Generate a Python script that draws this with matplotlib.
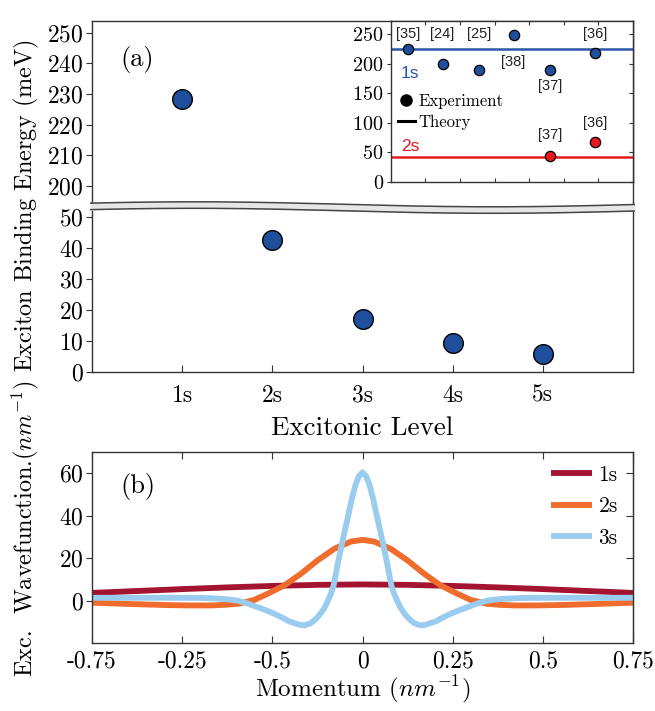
import numpy as np
import matplotlib
matplotlib.use("Agg")
import matplotlib.pyplot as plt
from matplotlib.lines import Line2D

plt.rcParams['font.family'] = 'serif'
plt.rcParams['font.serif'] = ['cmr10']
plt.rcParams['mathtext.fontset'] = 'cm'
plt.rcParams['axes.unicode_minus'] = False
plt.rcParams['axes.formatter.use_mathtext'] = True

# ---- data: panel (a) ----
levels = ['1s', '2s', '3s', '4s', '5s']
level_pos = [1, 2, 3, 4, 5]
binding = [228.5, 42.5, 17.2, 9.4, 5.9]

# inset: experiments vs theory
exp_1s_x = [0.5, 1.5, 2.55, 3.55, 4.6, 5.9]
exp_1s_y = [225, 200, 190, 249, 190, 219]
exp_1s_refs = ['[35]', '[24]', '[25]', '[38]', '[37]', '[36]']
exp_2s_x = [4.6, 5.9]
exp_2s_y = [43, 68]
exp_2s_refs = ['[37]', '[36]']
theory_1s = 225
theory_2s = 42.5
ref_1s_text_y = [250, 250, 250, 203, 162, 250]
ref_2s_text_y = [79, 99]

# ---- data: panel (b) ----
k_1s = [-0.75, -0.625, -0.5, -0.375, -0.25, -0.125, 0, 0.125, 0.25, 0.375, 0.5, 0.625, 0.75]
psi_1s = [3.6, 4.5, 5.4, 6.2, 6.9, 7.4, 7.6, 7.4, 6.9, 6.2, 5.4, 4.5, 3.6]

k_2s = [-0.75, -0.65, -0.55, -0.483, -0.42, -0.38, -0.344, -0.3, -0.263, -0.217, -0.171,
        -0.125, -0.078, -0.032, 0, 0.032, 0.078, 0.125, 0.171, 0.217, 0.263, 0.3, 0.344,
        0.38, 0.42, 0.483, 0.55, 0.65, 0.75]
psi_2s = [-1.0, -1.6, -2.1, -2.3, -2.3, -2.0, -1.5, 0.3, 3.2, 7.1, 12.6,
          18.9, 24.4, 27.8, 28.6, 27.8, 24.4, 18.9, 12.6, 7.1, 3.2, 0.3, -1.5,
          -2.0, -2.3, -2.3, -2.1, -1.6, -1.0]

k_3s = [-0.75, -0.6, -0.5, -0.44, -0.4, -0.37, -0.344, -0.32, -0.298, -0.28, -0.263, -0.25,
        -0.235, -0.217, -0.206, -0.189, -0.175, -0.161, -0.145, -0.134, -0.125, -0.115,
        -0.105, -0.096, -0.088, -0.08, -0.07, -0.062, -0.05, -0.0415, -0.03, -0.02, -0.01,
        0, 0.01, 0.02, 0.03, 0.0415, 0.05, 0.062, 0.07, 0.08, 0.088, 0.096, 0.105, 0.115,
        0.125, 0.134, 0.145, 0.161, 0.175, 0.189, 0.206, 0.217, 0.235, 0.25, 0.263, 0.28,
        0.298, 0.32, 0.344, 0.37, 0.4, 0.44, 0.5, 0.6, 0.75]
psi_3s = [1.3, 1.3, 1.3, 1.2, 0.9, 0.5, -0.1, -1.3, -2.7, -3.8, -4.9, -5.8,
          -7.0, -8.5, -9.6, -10.6, -11.4, -11.7, -10.8, -9.4, -7.9, -5.8,
          -3.3, 0.0, 3.0, 7.1, 16.0, 22.8, 32.2, 38.5, 47.6, 54.2, 58.6,
          60.4, 58.6, 54.2, 47.6, 38.5, 32.2, 22.8, 16.0, 7.1, 3.0, 0.0, -3.3, -5.8,
          -7.9, -9.4, -10.8, -11.7, -11.4, -10.6, -9.6, -8.5, -7.0, -5.8, -4.9, -3.8,
          -2.7, -1.3, -0.1, 0.5, 0.9, 1.2, 1.3, 1.3, 1.3]

k_ticks = [-0.75, -0.5, -0.25, 0, 0.25, 0.5, 0.75]
k_ticklabels = ['-0.75', '-0.25', '-0.5', '0', '0.25', '0.5', '0.75']

blue = '#1f4e9d'
spine_c = '#333333'
tick_fs = 17

W, H = 655, 711
def px_axes(l, t, r, b):
    return [l / W, 1 - b / H, (r - l) / W, (b - t) / H]

fig = plt.figure(figsize=(W / 100, H / 100), dpi=100)

ax_top = fig.add_axes(px_axes(92, 20.7, 633, 204))
ax_low = fig.add_axes(px_axes(92, 211, 633, 372))
ax_b = fig.add_axes(px_axes(92, 452, 633, 643))

for ax in (ax_top, ax_low, ax_b):
    for s in ax.spines.values():
        s.set_color(spine_c)
        s.set_linewidth(1.0)

# broken axis (a)
for ax in (ax_top, ax_low):
    ax.scatter(level_pos, binding, s=200, color=blue, edgecolor='k', linewidth=1, zorder=3)
    ax.set_xlim(0, 6)
ax_top.set_ylim(194.1, 253.9)
ax_low.set_ylim(0, 52)
ax_top.spines['bottom'].set_visible(False)
ax_low.spines['top'].set_visible(False)
ax_top.set_xticks([])
ax_top.set_yticks(np.arange(200, 251, 10))
ax_low.set_yticks(np.arange(0, 51, 10))
ax_low.set_xticks(level_pos)
ax_low.set_xticklabels(levels)
ax_top.tick_params(axis='y', direction='out', labelsize=tick_fs, length=4, color=spine_c, pad=2)
ax_low.tick_params(axis='y', direction='out', labelsize=tick_fs, length=4, color=spine_c, pad=2)
ax_low.tick_params(axis='x', direction='in', labelsize=tick_fs, length=5, color=spine_c, pad=9)
ax_low.set_xlabel('Excitonic Level', fontsize=19.5, labelpad=7)
ax_top.text(0.084, 0.79, '(a)', transform=ax_top.transAxes, fontsize=19, ha='center', va='center')

# wavy break band
ax_br = fig.add_axes(px_axes(90, 197, 635, 218))
ax_br.set_xlim(0, 1)
ax_br.set_ylim(218, 197)
ax_br.axis('off')
t = np.linspace(0, 1, 200)
wave = 2.5 * np.cos(2 * np.pi * (t - 0.19) / 1.1)
ax_br.fill_between(t, 204.3 - wave, 210.8 - wave, color='#e6e6e6', lw=0)
ax_br.plot(t, 204.3 - wave, color='#444444', lw=1.1)
ax_br.plot(t, 210.8 - wave, color='#444444', lw=1.1)

# inset
ax_in = fig.add_axes(px_axes(390.7, 20.7, 633, 181.7))
for s in ax_in.spines.values():
    s.set_color(spine_c)
    s.set_linewidth(1.0)
ax_in.axhline(theory_1s, color='#2a55a8', lw=1.8, zorder=2)
ax_in.axhline(theory_2s, color='#e8191e', lw=1.8, zorder=2)
ax_in.scatter(exp_1s_x, exp_1s_y, s=55, color=blue, edgecolor='k', linewidth=0.9, zorder=3)
ax_in.scatter(exp_2s_x, exp_2s_y, s=55, color='#e8191e', edgecolor='k', linewidth=0.9, zorder=3)
for x, ty, r in zip(exp_1s_x, ref_1s_text_y, exp_1s_refs):
    ax_in.text(x, ty, r, family='Liberation Sans', fontsize=10.5, ha='center', va='center', color='#222222')
for x, ty, r in zip(exp_2s_x, ref_2s_text_y, exp_2s_refs):
    ax_in.text(x, ty, r, family='Liberation Sans', fontsize=10.5, ha='center', va='center', color='#222222')
ax_in.text(0.3, 184, '1s', family='Liberation Sans', fontsize=12.5, color='#2a55a8', ha='left', va='center')
ax_in.text(0.3, 60.5, '2s', family='Liberation Sans', fontsize=12.5, color='#e8191e', ha='left', va='center')
ax_in.set_xlim(0, 7)
ax_in.set_ylim(0, 273)
ax_in.set_xticks(range(1, 7))
ax_in.set_xticklabels([])
ax_in.set_yticks(np.arange(0, 251, 50))
ax_in.tick_params(axis='x', direction='in', top=True, length=3, color=spine_c)
ax_in.tick_params(axis='y', direction='out', labelsize=14.5, length=3, color=spine_c, pad=2)
sec = ax_in.secondary_yaxis('right')
sec.set_yticks(np.arange(0, 251, 50))
sec.tick_params(direction='in', labelright=False, length=3, color=spine_c)
sec.spines['right'].set_color(spine_c)
hand = [Line2D([], [], marker='o', color='k', ls='none', markersize=8),
        Line2D([], [], color='k', lw=2.2)]
ax_in.legend(hand, ['Experiment', 'Theory'], loc='upper left', bbox_to_anchor=(0.03, 0.545),
             frameon=False, fontsize=12, handlelength=1.0, handletextpad=0.2,
             labelspacing=0.3, borderpad=0, borderaxespad=0)

# panel (b)
ax_b.plot(k_1s, psi_1s, color='#a2142f', lw=4.2, label='1s', solid_capstyle='butt')
ax_b.plot(k_2s, psi_2s, color='#ef6c2c', lw=4.2, label='2s', solid_capstyle='butt')
ax_b.plot(k_3s, psi_3s, color='#99ccee', lw=4.2, label='3s', solid_capstyle='butt')
ax_b.set_xlim(-0.75, 0.75)
ax_b.set_ylim(-20, 70)
ax_b.set_xticks(k_ticks)
ax_b.set_xticklabels(k_ticklabels)
ax_b.set_yticks([0, 20, 40, 60])
ax_b.tick_params(axis='x', direction='in', top=True, labelsize=tick_fs, length=5, color=spine_c, pad=5)
ax_b.tick_params(axis='y', direction='out', labelsize=tick_fs, length=4, color=spine_c, pad=2)
sec_b = ax_b.secondary_yaxis('right')
sec_b.set_yticks([0, 20, 40, 60])
sec_b.tick_params(direction='in', labelright=False, length=5, color=spine_c)
sec_b.spines['right'].set_color(spine_c)
ax_b.set_xlabel('Momentum $(nm^{-1})$', fontsize=18, labelpad=1)
ax_b.text(0.085, 0.82, '(b)', transform=ax_b.transAxes, fontsize=19, ha='center', va='center')
ax_b.legend(loc='upper right', bbox_to_anchor=(0.972, 0.93), frameon=False, fontsize=15.5,
            handlelength=1.9, handletextpad=0.3, labelspacing=0.55, borderpad=0, borderaxespad=0)

fig.text(0.038, 0.496, 'Exc.  Wavefunction.$(nm^{-1})$ Exciton Binding Energy (meV)',
         rotation=90, ha='center', va='center', fontsize=17.5)

fig.savefig('out.png', dpi=100)
